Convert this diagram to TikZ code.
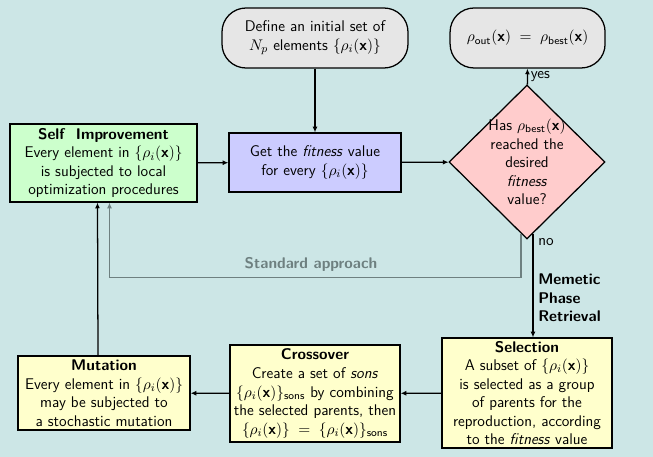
\documentclass[tikz,border=0pt]{standalone}
\usepackage{amsmath,amssymb}
\usepackage{tikz}
\usetikzlibrary{shapes,arrows,positioning,fit,calc,backgrounds,arrows.meta}
\usepackage{xcolor}
\definecolor{bgcolor}{RGB}{204, 230, 230}
\definecolor{startcolor}{RGB}{230, 230, 230}
\definecolor{evalcolor}{RGB}{204, 204, 255}
\definecolor{improvecolor}{RGB}{204, 255, 204}
\definecolor{decidecolor}{RGB}{255, 204, 204}
\definecolor{opcolor}{RGB}{255, 255, 204}
\definecolor{stdcolor}{RGB}{110, 128, 128}
\newcommand{\rhoset}{\{\rho_i(\textbf{x})\}}

\begin{document}
\begin{tikzpicture}[
    font=\sffamily\fontsize{11}{13.2}\selectfont,
    terminal/.style={rectangle, rounded corners=0.6cm, draw, line width=0.9pt, fill=startcolor, align=center, minimum height=1.5cm},
    opbox/.style={rectangle, draw, line width=0.9pt, align=center, inner sep=2pt},
    decide/.style={diamond, draw, line width=0.9pt, fill=decidecolor, align=center, inner sep=-3pt, minimum width=3.9cm, minimum height=3.85cm},
    flow/.style={-{Latex[length=4pt,width=3.5pt]}, line width=0.9pt},
    stdflow/.style={-{Latex[length=4pt,width=3.5pt]}, line width=0.9pt, stdcolor}
]
    \fill[bgcolor] (0, 0) rectangle (16.325, 11.425);
    \useasboundingbox (0, 0) rectangle (16.325, 11.425);

    \node[terminal, minimum width=4.65cm] (init) at (7.875, 10.475) {Define an initial set of\\ $N_p$ elements $\rhoset$};
    \node[terminal, minimum width=3.875cm] (out) at (13.19, 10.475) {$\rho_{\text{out}}(\textbf{x})\;=\;\rho_{\text{best}}(\textbf{x})$};
    \node[opbox, fill=evalcolor, minimum width=4.3cm, minimum height=1.475cm] (fit) at (7.875, 7.3625) {Get the \textit{fitness} value\\ for every $\rhoset$};
    \node[opbox, fill=improvecolor, minimum width=4.675cm, minimum height=1.95cm] (self) at (2.5875, 7.35) {\textbf{Self\ \ Improvement}\\ Every element in $\rhoset$\\ is subjected to local\\ optimization procedures};
    \node[decide] (check) at (13.175, 7.375) {Has $\rho_{\text{best}}(\textbf{x})$\\ reached the\\ desired\\ \textit{fitness}\\ value?};
    \node[opbox, fill=opcolor, minimum width=4.25cm, minimum height=2.75cm] (sel) at (13.175, 1.6) {\textbf{Selection}\\ A subset of $\rhoset$\\ is selected as a group\\ of parents for the\\ reproduction, according\\ to the \textit{fitness} value};
    \node[opbox, fill=opcolor, minimum width=4.25cm, minimum height=2.425cm] (cross) at (7.875, 1.5875) {\textbf{Crossover}\\ Create a set of \textit{sons}\\ $\rhoset_{\text{sons}}$ by combining\\ the selected parents, then\\ $\rhoset\;=\;\rhoset_{\text{sons}}$};
    \node[opbox, fill=opcolor, minimum width=4.3cm, minimum height=1.85cm] (mut) at (2.6, 1.6) {\textbf{Mutation}\\ Every element in $\rhoset$\\ may be subjected to\\ a stochastic mutation};

    % main loop
    \draw[flow] (init) -- (fit);
    \draw[flow] (fit) -- (check);
    \draw[flow] (self) -- (fit);
    \draw[flow] (check) -- node[right, inner sep=2pt] {yes} (out);
    \coordinate (nostart) at ($(check.south)+(0.15,0.15)$);
    \draw[flow] (nostart) -- node[pos=0.08, right] {no}
        node[pos=0.62, right, align=left, font=\sffamily\fontsize{11}{13.2}\selectfont\bfseries] {Memetic\\ Phase\\ Retrieval} (nostart |- sel.north);
    \draw[flow] (sel) -- (cross);
    \draw[flow] (cross) -- (mut);
    \draw[flow] ([xshift=-0.15cm]mut.north) -- ([xshift=-0.15cm]self.south);

    % standard approach
    \coordinate (stdstart) at ($(check.south)+(-0.15,0.15)$);
    \coordinate (stdcorner) at ($(stdstart)+(0,-1.1)$);
    \draw[stdflow] (stdstart) -- (stdcorner) -| ([xshift=0.15cm]self.south);
    \node[stdcolor, font=\sffamily\fontsize{11}{13.2}\selectfont\bfseries] (stdlabel) at (7.775, 4.825) {Standard approach};
\end{tikzpicture}
\end{document}
